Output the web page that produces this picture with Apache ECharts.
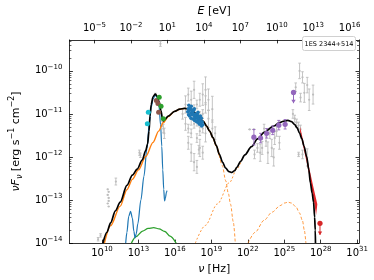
<!DOCTYPE html>
<html><head><meta charset="utf-8">
<script src="https://cdn.jsdelivr.net/npm/echarts@6/dist/echarts.min.js"></script>
<style>html,body{margin:0;padding:0;background:#fff}#c{width:374px;height:280px}</style>
</head><body><div id="c"></div>
<script>
// All values are log10(nu [Hz]) and log10(nuFnu [erg s^-1 cm^-2])
const xTicks = [10, 13, 16, 19, 22, 25, 28, 31];
const eTicksEv = [-5, -2, 1, 4, 7, 10, 13, 16];
const yTicks = [-14, -13, -12, -11, -10];
const logHzPerEv = 14.383;

const totalModel = [[10.08,-14.0],[10.4,-13.75],[10.71,-13.53],[11.1,-13.25],[11.5,-13.05],[12.05,-12.66],[12.5,-12.42],[12.9,-12.28],[13.31,-12.07],[13.6,-11.85],[13.75,-11.7],[13.87,-11.4],[13.95,-11.05],[14.05,-10.78],[14.2,-10.6],[14.38,-10.54],[14.55,-10.59],[14.7,-10.72],[14.85,-10.92],[14.97,-11.1],[15.05,-11.16],[15.2,-11.12],[15.45,-11.05],[15.97,-10.94],[16.4,-10.89],[16.8,-10.87],[17.2,-10.89],[17.55,-10.95],[17.9,-11.05],[18.34,-11.17],[18.6,-11.28],[18.86,-11.4],[19.13,-11.55],[19.4,-11.73],[19.65,-11.93],[19.92,-12.12],[20.18,-12.26],[20.45,-12.34],[20.68,-12.36],[20.9,-12.32],[21.1,-12.24],[21.4,-12.1],[21.76,-11.95],[22.3,-11.76],[22.8,-11.58],[23.34,-11.43],[24.13,-11.28],[24.6,-11.2],[24.92,-11.17],[25.3,-11.15],[25.6,-11.18],[25.84,-11.24],[26.05,-11.32],[26.25,-11.44],[26.45,-11.58],[26.63,-11.75],[26.85,-12.0],[27.02,-12.3],[27.15,-12.6],[27.3,-12.85],[27.41,-13.05],[27.5,-13.4],[27.55,-13.7],[27.57,-14.0]];
const synchrotron = [[10.2,-14.0],[10.7,-13.6],[11.5,-13.14],[12.05,-12.76],[12.5,-12.52],[13.0,-12.3],[13.6,-11.99],[14.2,-11.66],[14.66,-11.4],[15.05,-11.2],[15.45,-11.06],[15.97,-10.94],[16.4,-10.89],[16.8,-10.87],[17.2,-10.89],[17.55,-10.95],[17.9,-11.05],[18.34,-11.17],[18.6,-11.28],[18.86,-11.4],[19.13,-11.55],[19.4,-11.74],[19.65,-11.96]];
const synchrotronTail = [[19.65,-11.96],[19.9,-12.2],[20.18,-12.55],[20.4,-12.85],[20.58,-13.1],[20.8,-13.5],[20.97,-14.0]];
const sscRise = [[17.68,-14.0],[18.5,-13.59],[19.5,-13.09],[20.5,-12.59],[21.1,-12.28],[21.5,-12.07]];
const externalCompton = [[22.02,-14.0],[22.6,-13.75],[23.34,-13.47],[24.0,-13.28],[24.66,-13.13],[25.0,-13.07],[25.31,-13.05],[25.6,-13.07],[25.97,-13.16],[26.25,-13.3],[26.5,-13.48],[26.65,-13.7],[26.78,-14.0]];
const hostCurve = [[11.95,-14.0],[12.05,-13.75],[12.2,-13.38],[12.35,-13.26],[12.5,-13.42],[12.62,-13.72],[12.72,-13.88],[12.82,-13.78],[12.95,-13.55],[13.2,-13.0],[13.45,-12.45],[13.7,-11.8],[13.9,-11.2],[14.05,-10.85],[14.2,-10.65],[14.38,-10.56],[14.55,-10.62],[14.7,-10.85],[14.82,-11.25],[14.92,-11.75],[15.0,-12.3],[15.08,-12.75],[15.15,-13.02],[15.22,-12.95],[15.3,-12.82],[15.35,-12.78]];
const dustCurve = [[12.42,-14.0],[12.8,-13.85],[13.34,-13.72],[13.8,-13.66],[14.26,-13.64],[14.7,-13.67],[15.18,-13.73],[15.6,-13.84],[16.1,-14.0]];
const tevButterflyUpper = [[26.3,-11.3],[26.9,-12.05],[27.4,-12.7],[27.72,-13.1]];
const tevButterflyLower = [[26.3,-11.42],[26.9,-12.2],[27.4,-12.95],[27.62,-13.35]];

// [logNu, logFlux, yErr(dex), xErr(dex)]
const archival = [[9.68,-13.91,0.04,0],[9.88,-13.82,0.04,0],[10.47,-12.75,0,0.08],[10.55,-12.81,0,0.08],[10.47,-12.88,0,0.08],[10.55,-12.95,0,0.08],[10.55,-13.02,0,0.08],[10.47,-13.08,0,0.08],[10.55,-13.15,0,0.08],[11.14,-12.57,0.08,0],[13.08,-11.9,0.06,0],[13.16,-11.96,0.05,0],
[14.39,-10.55,0.03,0],[15.05,-11.34,0.1,0],[15.13,-11.45,0.12,0],[14.97,-11.23,0.06,0],[14.81,-9.37,0.06,0],
[16.63,-11.0,0.12,0],[16.87,-10.78,0.2,0],[16.87,-11.23,0.15,0],[17.1,-10.55,0.15,0],[17.1,-10.89,0.1,0],[17.1,-11.34,0.1,0],[17.1,-11.67,0.15,0],[17.34,-10.67,0.2,0],[17.34,-11.11,0.15,0],[17.34,-11.45,0.1,0],[17.34,-11.9,0.2,0],[17.58,-10.44,0.2,0],[17.58,-10.89,0.1,0],[17.58,-11.23,0.1,0],[17.58,-12.12,0.2,0],[17.81,-10.78,0.1,0],[17.81,-11.18,0.1,0],[17.81,-11.56,0.1,0],[17.81,-12.23,0.15,0],[18.05,-10.67,0.15,0],[18.05,-11.05,0.1,0],[18.05,-11.4,0.1,0],[18.05,-11.79,0.2,0],[18.29,-10.55,0.25,0],[18.29,-11.0,0.1,0],[18.29,-11.34,0.1,0],[18.29,-11.9,0.15,0],[18.52,-10.44,0.3,0],[18.52,-10.78,0.2,0],[18.52,-11.45,0.2,0],[18.76,-10.67,0.25,0],[18.76,-11.11,0.2,0],[19.08,-10.89,0.3,0],[19.08,-11.34,0.2,0],[19.31,-11.45,0.15,0],[17.97,-11.83,0.1,0],
[22.15,-11.36,0,0.12],[22.5,-11.36,0,0.12],[23.18,-11.79,0.15,0],[23.02,-11.9,0.2,0],[23.5,-11.63,0.12,0],[23.65,-11.9,0.25,0],[23.81,-11.45,0.12,0],[23.97,-11.79,0.2,0],[24.21,-11.56,0.15,0],[24.37,-11.4,0.12,0],[24.6,-11.67,0.15,0],[22.79,-11.79,0.1,0],[23.34,-11.34,0.1,0],[24.13,-12.01,0.2,0],[22.55,-11.94,0.1,0],
[26.26,-10.0,0.18,0],[26.5,-10.15,0.13,0],[26.89,-10.33,0.18,0],[25.94,-10.38,0.1,0],[26.65,-10.51,0.22,0],[26.34,-10.62,0.1,0],[27.05,-10.67,0.25,0],[27.37,-10.55,0.22,0],[25.71,-11.0,0.1,0],[25.86,-11.11,0.08,0],[26.02,-11.2,0.08,0],[26.18,-11.27,0.08,0],[26.34,-11.36,0.1,0],[26.5,-11.94,0.1,0],[26.89,-12.01,0.2,0],[26.18,-11.94,0.05,0]];
const xrayBlue = [[17.05,-10.95],[17.1,-10.88],[17.12,-11.02],[17.18,-10.92],[17.2,-11.05],[17.25,-10.86],[17.3,-10.98],[17.32,-11.1],[17.38,-10.9],[17.4,-11.02],[17.45,-10.95],[17.48,-11.12],[17.52,-11.0],[17.55,-10.92],[17.6,-11.06],[17.62,-11.15],[17.68,-11.0],[17.7,-11.1],[17.75,-11.04],[17.78,-11.18],[17.82,-11.08],[17.85,-11.0],[17.88,-11.14],[17.92,-11.2],[17.95,-11.06],[18.0,-11.12],[18.02,-11.24],[18.08,-11.15],[18.12,-11.22],[18.18,-11.1],[18.2,-11.28],[18.25,-11.18],[18.3,-11.25],[17.15,-10.8],[17.35,-10.82],[17.6,-10.88],[17.9,-10.96],[18.1,-11.05]];
const cyanPoints = [[13.81,-10.96],[13.73,-11.23]];
const brownPoints = [[14.47,-10.69],[14.6,-10.76],[14.66,-10.96]];
const greenPoints = [[14.71,-10.61],[14.86,-10.82],[15.05,-11.11]];
const fermiPoints = [[22.5,-11.54,0.18],[23.05,-11.56,0.11],[23.55,-11.45,0.11],[24.05,-11.38,0.1],[24.55,-11.26,0.11],[25.07,-11.24,0.11]];
const fermiUpperLimit = [[25.76,-10.5,0.25]];
const tevUpperLimit = [[27.94,-13.54,0.27]];

const xMin = 7.317, xMax = 31.15, yMin = -14, yMax = -9.28;
const minorY = [];
for (let n = -14; n <= -10; n++) for (let k = 2; k <= 9; k++) { const v = n + Math.log10(k); if (v < yMax) minorY.push(v); }
const eTickPos = eTicksEv.map(e => e + logHzPerEv);

const FONT = 'DejaVu Sans';
const tickRich = { b: { fontSize: 10, fontFamily: FONT, color: '#000', lineHeight: 14, verticalAlign: 'middle' }, s: { fontSize: 7, fontFamily: FONT, color: '#000', lineHeight: 7, verticalAlign: 'top' } };
const fmtExp = v => { const n = Math.round(v); return '{b|10}{s|' + (n < 0 ? '\u2212' + (-n) : n) + '}'; };

function errRender(color, cap, r) {
  return function (params, api) {
    const x = api.value(0), y = api.value(1), ey = api.value(2), ex = api.value(3);
    const c = api.coord([x, y]); const ch = [];
    const st = { stroke: color, lineWidth: 0.9 };
    if (ey > 0) {
      const t = api.coord([x, y + ey]), b = api.coord([x, y - ey]);
      ch.push({ type: 'line', shape: { x1: c[0], y1: t[1], x2: c[0], y2: b[1] }, style: st });
      ch.push({ type: 'line', shape: { x1: c[0] - cap, y1: t[1], x2: c[0] + cap, y2: t[1] }, style: st });
      ch.push({ type: 'line', shape: { x1: c[0] - cap, y1: b[1], x2: c[0] + cap, y2: b[1] }, style: st });
    }
    if (ex > 0) {
      const l = api.coord([x - ex, y]), rr = api.coord([x + ex, y]);
      ch.push({ type: 'line', shape: { x1: l[0], y1: c[1], x2: rr[0], y2: c[1] }, style: st });
    }
    ch.push({ type: 'circle', shape: { cx: c[0], cy: c[1], r: r }, style: { fill: color } });
    return { type: 'group', children: ch };
  };
}
function ulRender(color, r) {
  return function (params, api) {
    const x = api.value(0), y = api.value(1), len = api.value(2);
    const c = api.coord([x, y]), e = api.coord([x, y - len]);
    return { type: 'group', children: [
      { type: 'line', shape: { x1: c[0], y1: c[1], x2: c[0], y2: e[1] }, style: { stroke: color, lineWidth: 1 } },
      { type: 'polygon', shape: { points: [[c[0] - 2.2, e[1] - 3.5], [c[0] + 2.2, e[1] - 3.5], [c[0], e[1]]] }, style: { fill: color } },
      { type: 'circle', shape: { cx: c[0], cy: c[1], r: r }, style: { fill: color } }
    ] };
  };
}
function lineSeries(data, color, width, type, z) {
  return { type: 'line', data: data, showSymbol: false, smooth: 0.3, smoothMonotone: 'x', xAxisIndex: 0, yAxisIndex: 0, z: z,
    lineStyle: { color: color, width: width, type: type || 'solid' }, silent: true };
}
function scatter(data, color, size, z) {
  return { type: 'scatter', data: data, symbolSize: size, itemStyle: { color: color, opacity: 1 }, z: z, silent: true };
}

const option = {
  animation: false,
  backgroundColor: '#fff',
  grid: { left: 57, right: 15, top: 33, bottom: 36, containLabel: false },
  xAxis: [
    { type: 'value', position: 'bottom', min: xMin, max: xMax,
      axisLine: { show: true, onZero: false, lineStyle: { color: '#000', width: 0.8 } },
      axisTick: { show: true, inside: true, length: 3.5, customValues: xTicks, lineStyle: { color: '#000', width: 0.8 } },
      axisLabel: { customValues: xTicks, formatter: fmtExp, rich: tickRich, margin: 3 },
      splitLine: { show: false },
      name: '{i|\u03bd} {t|[Hz]}', nameLocation: 'middle', nameGap: 17,
      nameTextStyle: { rich: { i: { fontSize: 11, fontFamily: FONT, fontStyle: 'italic', color: '#000' }, t: { fontSize: 11, fontFamily: FONT, color: '#000' } } } },
    { type: 'value', position: 'top', min: xMin, max: xMax,
      axisLine: { show: true, onZero: false, lineStyle: { color: '#000', width: 0.8 } },
      axisTick: { show: true, inside: true, length: 3.5, customValues: eTickPos, lineStyle: { color: '#000', width: 0.8 } },
      axisLabel: { customValues: eTickPos, formatter: v => fmtExp(v - logHzPerEv), rich: tickRich, margin: 4 },
      splitLine: { show: false },
      name: '{i|E} {t|[eV]}', nameLocation: 'middle', nameGap: 16,
      nameTextStyle: { rich: { i: { fontSize: 11, fontFamily: FONT, fontStyle: 'italic', color: '#000' }, t: { fontSize: 11, fontFamily: FONT, color: '#000' } } } }
  ],
  yAxis: [
    { type: 'value', position: 'left', min: yMin, max: yMax,
      axisLine: { show: true, onZero: false, lineStyle: { color: '#000', width: 0.8 } },
      axisTick: { show: true, inside: true, length: 3.5, customValues: yTicks, lineStyle: { color: '#000', width: 0.8 } },
      axisLabel: { customValues: yTicks, formatter: fmtExp, rich: tickRich, margin: 7 },
      splitLine: { show: false },
      name: '{i|\u03bdF}{sb|\u03bd}{t| [erg s}{sp|\u22121}{t| cm}{sp|\u22122}{t|]}', nameLocation: 'middle', nameGap: 34, nameRotate: 90,
      nameTextStyle: { rich: {
        i: { fontSize: 11, fontFamily: FONT, fontStyle: 'italic', color: '#000', lineHeight: 16, verticalAlign: 'middle' },
        t: { fontSize: 11, fontFamily: FONT, color: '#000', lineHeight: 16, verticalAlign: 'middle' },
        sp: { fontSize: 8, fontFamily: FONT, color: '#000', lineHeight: 8, verticalAlign: 'top' },
        sb: { fontSize: 8, fontFamily: FONT, fontStyle: 'italic', color: '#000', lineHeight: 8, verticalAlign: 'bottom' } } } },
    { type: 'value', position: 'left', min: yMin, max: yMax,
      axisLine: { show: false }, axisLabel: { show: false }, splitLine: { show: false },
      axisTick: { show: true, inside: true, length: 2, customValues: minorY, lineStyle: { color: '#000', width: 0.6 } } },
    { type: 'value', position: 'right', min: yMin, max: yMax,
      axisLine: { show: true, onZero: false, lineStyle: { color: '#000', width: 0.8 } }, axisLabel: { show: false }, splitLine: { show: false },
      axisTick: { show: true, inside: true, length: 3.5, customValues: yTicks, lineStyle: { color: '#000', width: 0.8 } } },
    { type: 'value', position: 'right', min: yMin, max: yMax,
      axisLine: { show: false }, axisLabel: { show: false }, splitLine: { show: false },
      axisTick: { show: true, inside: true, length: 2, customValues: minorY, lineStyle: { color: '#000', width: 0.6 } } }
  ],
  series: [
    { type: 'custom', data: archival, renderItem: errRender('#bdbdbd', 1.3, 1.1), encode: { x: 0, y: 1 }, z: 1, silent: true },
    lineSeries(dustCurve, '#2ca02c', 1.3, 'solid', 3),
    lineSeries(hostCurve, '#1f77b4', 1.2, 'solid', 3),
    lineSeries(synchrotronTail, '#ff7f0e', 0.8, [3, 2], 3),
    lineSeries(sscRise, '#ff7f0e', 0.8, [2, 2], 3),
    lineSeries(externalCompton, '#ff7f0e', 0.8, [3, 2], 3),
    lineSeries(synchrotron, '#ff7f0e', 1.4, 'solid', 4),
    { type: 'custom', data: [[27, -12.2]], z: 4, silent: true, clip: false,
      renderItem: function (params, api) {
        const pts = tevButterflyUpper.map(p => api.coord(p)).concat(tevButterflyLower.slice().reverse().map(p => api.coord(p)));
        return { type: 'polygon', shape: { points: pts }, style: { fill: '#e3262a' } };
      } },
    lineSeries(totalModel, '#000000', 1.7, 'solid', 5),
    scatter(xrayBlue, '#1f77b4', 3.5, 6),
    scatter(cyanPoints, '#17becf', 5, 6),
    scatter(brownPoints, '#8c564b', 5, 6),
    scatter(greenPoints, '#2ca02c', 5, 6),
    { type: 'custom', data: fermiPoints.map(p => [p[0], p[1], p[2], 0]), renderItem: errRender('#9467bd', 1.5, 2.6), encode: { x: 0, y: 1 }, z: 7, silent: true },
    { type: 'custom', data: fermiUpperLimit, renderItem: ulRender('#9467bd', 2.6), encode: { x: 0, y: 1 }, z: 7, silent: true },
    { type: 'custom', data: tevUpperLimit, renderItem: ulRender('#d62728', 2.6), encode: { x: 0, y: 1 }, z: 7, silent: true }
  ],
  graphic: [
    { type: 'rect', shape: { x: 302.5, y: 36.5, width: 53, height: 14, r: 2 }, style: { fill: '#fff', stroke: '#d0d0d0', lineWidth: 1 }, z: 20 },
    { type: 'text', x: 329, y: 44, style: { text: '1ES 2344+514', fontSize: 6.5, fontFamily: FONT, fill: '#000', align: 'center', verticalAlign: 'middle' }, z: 21 }
  ]
};
const chart = echarts.init(document.getElementById('c'), null, { renderer: 'canvas' });
chart.setOption(option);
</script></body></html>
